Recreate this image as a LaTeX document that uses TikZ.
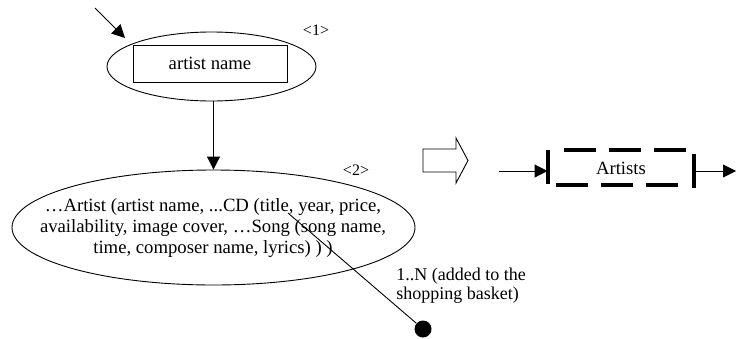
\documentclass[tikz,border=0pt]{standalone}
\usepackage{fontspec}
\setmainfont{Liberation Serif}
\usetikzlibrary{arrows.meta,shapes.geometric}
\begin{document}
\begin{tikzpicture}[x=1pt,y=-1pt,
  line width=0.9pt,
  arr/.style={-{Triangle[length=13pt,width=13pt]}},
  bubble/.style={draw,ellipse,inner sep=0pt},
  body/.style={font=\fontsize{18.7}{21}\selectfont},
  tag/.style={font=\fontsize{16}{18}\selectfont,inner sep=0pt},
  bar/.style={line width=3.5pt},
  dashline/.style={line width=4pt,dash pattern=on 32pt off 13pt},
]
\useasboundingbox (0,0) rectangle (736,338);

% first view: the entry point with its key attribute
\node[bubble,minimum width=209pt,minimum height=69pt] (e1) at (211.5,66.5) {};
\node[draw,minimum width=154pt,minimum height=37pt,inner sep=0pt,body] (key) at (210,63.5) {artist name};
\node[tag] (n1) at (316,30) {<1>};
\coordinate (src) at (95,8);
\coordinate (srcTip) at (125,38);
\draw[arr] (src) -- (srcTip);

% second view: the artist with nested CDs and songs
\node[bubble,minimum width=403pt,minimum height=115pt] (e2) at (213.5,227.5) {};
\node[body,align=center,inner sep=0pt] (attrs) at (213,228.5)
  {…Artist (artist name, ...CD (title, year, price,\\
   availability, image cover, …Song (song name,\\
   time, composer name, lyrics) ) )};
\node[tag] (n2) at (356,170) {<2>};
\draw[arr] (e1.south -| e2.north) -- (e2.north);

% cardinality link to the shopping basket
\coordinate (lnk) at (288,213);
\node[circle,fill,inner sep=0pt,minimum size=17pt] (card) at (423,329) {};
\draw (lnk) -- (card);
\node[font=\fontsize{18}{19.5}\selectfont,align=left,anchor=west,inner sep=0pt] (cardlbl) at (396,285.5)
  {1..N (added to the\\ shopping basket)};

% hollow transformation arrow
\draw (423,149) -- (456,149) -- (456,138) -- (468,160.5) -- (456,183) -- (456,172) -- (423,172) -- cycle;

% resulting index: Artists
\node[body,minimum width=146pt,minimum height=35pt,inner sep=0pt] (art) at (621,168) {Artists};
\draw[dashline] (564,150) -- (686,150);
\draw[dashline] (556,185) -- (678,185);
\draw[bar] (548,150) -- (548,184);
\draw[bar] (694,154) -- (694,188);
\coordinate (inB) at (499,171);
\coordinate (outB) at (736,171);
\draw[arr] (inB) -- (inB -| art.west);
\draw[arr] (outB -| art.east) -- (outB);
\end{tikzpicture}
\end{document}
